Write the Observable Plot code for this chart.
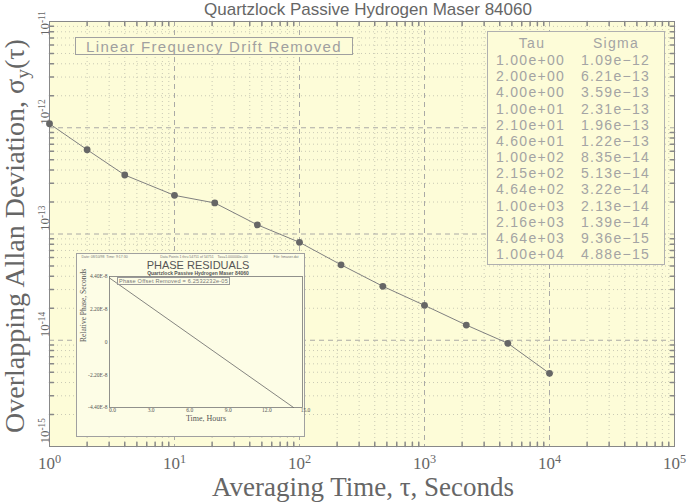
<!DOCTYPE html>
<html><head><meta charset="utf-8">
<script src="https://cdn.jsdelivr.net/npm/d3@7"></script>
<script src="https://cdn.jsdelivr.net/npm/@observablehq/plot@0.6"></script>
<style>
body{margin:0;background:#fff;}
#wrap{position:relative;width:688px;height:504px;overflow:hidden;}
#wrap svg{display:block;}
.abs{position:absolute;white-space:nowrap;}
#title{left:368px;top:0px;transform:translateX(-50%);font:17px "Liberation Sans",sans-serif;color:#666;}
#xtitle{left:363px;top:487px;transform:translate(-50%,-50%);font:27px "Liberation Serif",serif;color:#666;}
#ytitle{left:15px;top:236px;transform:translate(-50%,-50%) rotate(-90deg);font:28px "Liberation Serif",serif;color:#666;}
#ytitle sub{font-size:0.7em;vertical-align:-0.25em;line-height:0;}
#legend{left:75px;top:37px;width:276px;height:16px;border:1px solid #a0a0a0;background:#fdfcd8;font:15px "Liberation Sans",sans-serif;color:#a0a0a0;letter-spacing:1.3px;text-align:center;line-height:17px;}
#table{left:487px;top:31px;width:176px;height:232px;border:1px solid #b0b0b0;background:#fdfcd8;font:14px "Liberation Sans",sans-serif;color:#a4a4a4;letter-spacing:1.3px;}
#table .row{position:absolute;left:0;height:16px;line-height:16px;width:176px;}
#table .c1{position:absolute;left:8px;width:72px;}
#table .c2{position:absolute;left:93px;width:70px;}
#table .hd .c1,#table .hd .c2{text-align:center;}
#inset{left:76px;top:253px;width:229px;height:184px;box-sizing:border-box;border:1px solid #a0a0a0;background:#fdfde6;}
#offset{left:117px;top:277px;font:5.6px "Liberation Sans",sans-serif;color:#777;border:1px solid #999;padding:0 1px;line-height:6px;letter-spacing:0.2px;}
</style></head><body><div id="wrap"></div>
<script>
// ---- data ----
const tau   = [1, 2, 4, 10, 21, 46, 100, 215, 464, 1000, 2160, 4640, 10000];
const sigma = [1.09e-12, 6.21e-13, 3.59e-13, 2.31e-13, 1.96e-13, 1.22e-13, 8.35e-14, 5.13e-14, 3.22e-14, 2.13e-14, 1.39e-14, 9.36e-15, 4.88e-15];
const xMajor = [1, 10, 100, 1000, 10000, 100000];
const yMajor = [1e-15, 1e-14, 1e-13, 1e-12, 1e-11];
const titleText = "Quartzlock Passive Hydrogen Maser 84060";
const xTitle = "Averaging Time, τ, Seconds";
const legendText = "Linear Frequency Drift Removed";
const tableHead = ["Tau", "Sigma"];

const insetHours = [0, 14.3];
const insetPhase = [4.3e-8, -4.4e-8];
const insetXTicks = [0, 3, 6, 9, 12, 15];
const insetYTicks = [4.4e-8, 2.2e-8, 0, -2.2e-8, -4.4e-8];
const insetYLabels = ["4.40E-8", "2.20E-8", "0", "-2.20E-8", "-4.40E-8"];
const insetTitle = "PHASE RESIDUALS";
const insetSubtitle = "Quartzlock Passive Hydrogen Maser 84060";
const insetHeader = ["Date: 08/10/98  Time: 9:17:30", "Data Points 1 thru 54751 of 54751    Tau=1.000000e+00", "File: hmaser.dat"];
const insetXLabel = "Time, Hours";
const insetYLabel = "Relative Phase, Seconds";
const offsetText = "Phase Offset Removed = 6.2532232e-05";

// ---- helpers ----
const minorOf = (lo, hi) => { const out = []; for (let e = lo; e < hi; e++) for (let m = 2; m <= 9; m++) out.push(m * Math.pow(10, e)); return out; };
const xMinor = minorOf(0, 5);
const yMinor = minorOf(-15, -11);
const expFmt = v => v.toExponential(2).replace(/e([+-])(\d)$/, "e$10$2").replace("-", "−");
const tickShape = {draw(ctx, l) { ctx.moveTo(0, 0); ctx.lineTo(0, -l); }};
const pts = tau.map((t, i) => ({t, s: sigma[i]}));
const serif = "Liberation Serif, serif";

const wrap = document.getElementById("wrap");

const main = Plot.plot({
  width: 688, height: 504,
  marginLeft: 49, marginRight: 14, marginTop: 21, marginBottom: 58,
  x: {type: "log", domain: [1, 1e5], axis: null},
  y: {type: "log", domain: [1e-15, 1e-11], axis: null},
  style: {background: "transparent", overflow: "visible"},
  marks: [
    Plot.frame({fill: "#fdfcd8", stroke: "none"}),
    Plot.ruleX(xMinor, {x: d => d, stroke: "#bcbcac", strokeWidth: 0.8, strokeDasharray: "1,3"}),
    Plot.ruleY(yMinor, {y: d => d, stroke: "#bcbcac", strokeWidth: 0.8, strokeDasharray: "1,3"}),
    Plot.ruleX(xMajor.slice(1, -1), {x: d => d, stroke: "#a0a0a0", strokeWidth: 0.9, strokeDasharray: "5,4"}),
    Plot.ruleY(yMajor.slice(1, -1), {y: d => d, stroke: "#a0a0a0", strokeWidth: 0.9, strokeDasharray: "5,4"}),
    Plot.vectorX(xMinor, {x: d => d, frameAnchor: "bottom", rotate: 0, length: 4, anchor: "start", shape: tickShape, stroke: "#888"}),
    Plot.vectorX(xMinor, {x: d => d, frameAnchor: "top", rotate: 180, length: 4, anchor: "start", shape: tickShape, stroke: "#888"}),
    Plot.vectorY(yMinor, {y: d => d, frameAnchor: "left", rotate: 90, length: 4, anchor: "start", shape: tickShape, stroke: "#888"}),
    Plot.vectorY(yMinor, {y: d => d, frameAnchor: "right", rotate: -90, length: 4, anchor: "start", shape: tickShape, stroke: "#888"}),
    Plot.frame({stroke: "#888", strokeWidth: 1}),
    Plot.line(pts, {x: "t", y: "s", stroke: "#808080", strokeWidth: 1}),
    Plot.dot(pts, {x: "t", y: "s", r: 3.4, fill: "#666", stroke: "none"}),
    Plot.text(xMajor, {x: d => d, frameAnchor: "bottom", lineAnchor: "top", dy: 10, text: d => "10^" + Math.round(Math.log10(d)), fontSize: 17, fontFamily: serif, fill: "#666"}),
    Plot.text(yMajor.slice(0, -1), {y: d => d, frameAnchor: "left", rotate: -90, textAnchor: "start", lineAnchor: "bottom", dx: -1, dy: -3, text: d => "10^" + Math.round(Math.log10(d)), fontSize: 13, fontFamily: serif, fill: "#666"}),
    Plot.text(yMajor.slice(-1), {y: d => d, frameAnchor: "left", rotate: -90, textAnchor: "middle", lineAnchor: "bottom", dx: -1, dy: 2, text: d => "10^" + Math.round(Math.log10(d)), fontSize: 13, fontFamily: serif, fill: "#666"})
  ]
});
wrap.appendChild(main);

// superscripts on tick labels
main.querySelectorAll("text").forEach(t => {
  const m = t.textContent.match(/^10\^(.+)$/);
  if (m) {
    t.textContent = "10";
    const ts = document.createElementNS("http://www.w3.org/2000/svg", "tspan");
    ts.setAttribute("dy", "-0.42em");
    ts.setAttribute("font-size", "0.72em");
    ts.textContent = m[1];
    t.appendChild(ts);
  }
});

function addDiv(id, html) { const d = document.createElement("div"); d.id = id; d.className = "abs"; d.innerHTML = html; wrap.appendChild(d); return d; }
addDiv("title", titleText);
addDiv("xtitle", xTitle);
addDiv("ytitle", "Overlapping Allan Deviation, σ<sub>y</sub>(τ)");
addDiv("legend", legendText);

// table
const tbl = addDiv("table", "");
const hd = document.createElement("div"); hd.className = "row hd"; hd.style.top = "3px";
hd.innerHTML = `<span class="c1">${tableHead[0]}</span><span class="c2">${tableHead[1]}</span>`;
tbl.appendChild(hd);
tau.forEach((t, i) => {
  const r = document.createElement("div"); r.className = "row"; r.style.top = (20 + i * 16.17) + "px";
  r.innerHTML = `<span class="c1">${expFmt(t).replace("−", "-")}</span><span class="c2">${expFmt(sigma[i])}</span>`;
  tbl.appendChild(r);
});

// inset
const inset = addDiv("inset", "");
const ipts = insetHours.map((h, i) => ({h, p: insetPhase[i]}));
const small = Plot.plot({
  width: 227, height: 182,
  marginLeft: 32, marginRight: 2, marginTop: 22, marginBottom: 29,
  x: {domain: [0, 15], axis: null},
  y: {domain: [-4.4e-8, 4.4e-8], axis: null},
  style: {background: "transparent", overflow: "visible"},
  marks: [
    Plot.frame({stroke: "#777", strokeWidth: 0.8}),
    Plot.line(ipts, {x: "h", y: "p", stroke: "#666", strokeWidth: 0.8}),
    Plot.text(insetYTicks, {y: d => d, frameAnchor: "left", textAnchor: "end", dx: -2, text: (d, i) => insetYLabels[i], fontSize: 5.5, fontFamily: serif, fill: "#555"}),
    Plot.text(insetXTicks, {x: d => d, frameAnchor: "bottom", lineAnchor: "top", dy: 1, dx: 3, text: d => d.toFixed(1), fontSize: 5.5, fontFamily: serif, fill: "#555"}),
    Plot.text([insetXLabel], {frameAnchor: "bottom", lineAnchor: "top", dy: 8, text: d => d, fontSize: 8, fontFamily: serif, fill: "#555"}),
    Plot.text([insetYLabel], {frameAnchor: "left", rotate: -90, dx: -26, text: d => d, fontSize: 7.5, fontFamily: serif, fill: "#555"}),
    Plot.text([insetTitle], {frameAnchor: "top", lineAnchor: "bottom", dx: -8, dy: -8, text: d => d, fontSize: 11, fontFamily: "Liberation Sans, sans-serif", fill: "#555"}),
    Plot.text([insetSubtitle], {frameAnchor: "top", lineAnchor: "bottom", dx: -8, dy: -2, text: d => d, fontSize: 5, fontWeight: "bold", fontFamily: "Liberation Sans, sans-serif", fill: "#555"}),
    Plot.text([insetHeader[0]], {frameAnchor: "top-left", textAnchor: "start", lineAnchor: "top", dx: -28, dy: -21, text: d => d, fontSize: 3.5, fontFamily: "Liberation Sans, sans-serif", fill: "#777"}),
    Plot.text([insetHeader[1]], {frameAnchor: "top", lineAnchor: "top", dx: -2, dy: -21, text: d => d, fontSize: 3.5, fontFamily: "Liberation Sans, sans-serif", fill: "#777"}),
    Plot.text([insetHeader[2]], {frameAnchor: "top-right", textAnchor: "end", lineAnchor: "top", dx: -4, dy: -21, text: d => d, fontSize: 3.5, fontFamily: "Liberation Sans, sans-serif", fill: "#777"})
  ]
});
inset.appendChild(small);
addDiv("offset", offsetText);
</script>
</body></html>
